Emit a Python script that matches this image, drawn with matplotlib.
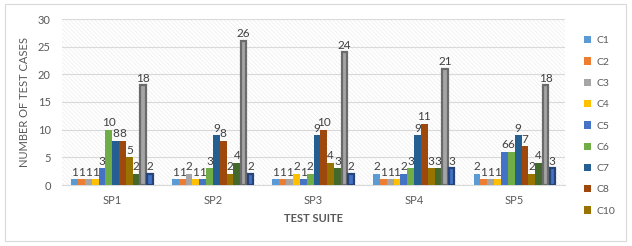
import matplotlib
matplotlib.use("Agg")
import matplotlib.pyplot as plt
from matplotlib.patches import Rectangle
import numpy as np

plt.rcParams['font.family'] = ['Lato', 'DejaVu Sans']

suites = ["SP1", "SP2", "SP3", "SP4", "SP5"]
series_names = ["C1", "C2", "C3", "C4", "C5", "C6", "C7", "C8", "C10", "C11", "C12", "C13"]
C1 = [1, 1, 1, 2, 2]
C2 = [1, 1, 1, 1, 1]
C3 = [1, 2, 1, 1, 1]
C4 = [1, 1, 2, 1, 1]
C5 = [3, 1, 1, 2, 6]
C6 = [10, 3, 2, 3, 6]
C7 = [8, 9, 9, 9, 9]
C8 = [8, 8, 10, 11, 7]
C10 = [5, 2, 4, 3, 2]
C11 = [2, 4, 3, 3, 4]
C12 = [18, 26, 24, 21, 18]
C13 = [2, 2, 2, 3, 3]
values = [C1, C2, C3, C4, C5, C6, C7, C8, C10, C11, C12, C13]

fills = ["#5B9BD5", "#ED7D31", "#A5A5A5", "#FFC000", "#4472C4", "#70AD47",
         "#255E91", "#9E480E", "#997300", "#43682B", "#A5A5A5", "#4472C4"]
edges = [None] * 10 + ["#6B6B6B", "#264478"]

plt.rcParams['hatch.color'] = "#EDEDED"
plt.rcParams['hatch.linewidth'] = 0.5

fig = plt.figure(figsize=(6.32, 2.46), dpi=100)
# outer chart border
fig.patches.append(Rectangle((5 / 632, 5 / 246), 621 / 632, 237 / 246, transform=fig.transFigure,
                             fill=False, edgecolor="#D9D9D9", linewidth=0.8))
ax = fig.add_axes([62 / 632, 61 / 246, 503 / 632, 166 / 246])

x = np.arange(len(suites))
n = len(values)
bw = 0.068
handles = []
for i, (vals, fc, ec) in enumerate(zip(values, fills, edges)):
    pos = x + (i - (n - 1) / 2) * bw
    if ec is None:
        b = ax.bar(pos, vals, bw, color=fc, linewidth=0, zorder=3)
    else:
        b = ax.bar(pos, vals, bw * 0.8, color=fc, edgecolor=ec, linewidth=1.6, zorder=3)
    handles.append(b)
    for p, v in zip(pos, vals):
        ax.text(p, v + 0.3, str(v), ha="center", va="bottom", fontsize=8.5, color="#404040", zorder=4)

ax.set_xlim(-0.5, len(suites) - 0.5)
ax.set_ylim(0, 30)
ax.set_yticks(range(0, 31, 5))
ax.set_xticks(x)
ax.set_xticklabels(suites)
ax.tick_params(axis="both", length=0, labelsize=8, colors="#595959")
ax.tick_params(axis="x", pad=7)
ax.tick_params(axis="y", pad=8)
for s in ["top", "right", "left"]:
    ax.spines[s].set_visible(False)
ax.spines["bottom"].set_color("#D9D9D9")
ax.grid(axis="y", color="#D9D9D9", linewidth=0.8, zorder=1)
ax.set_axisbelow(True)
ax.set_facecolor("white")
ax.add_patch(Rectangle((0, 0), 1, 1, transform=ax.transAxes, facecolor="none",
                       edgecolor="#EDEDED", hatch="\\\\\\\\\\\\\\\\", linewidth=0, zorder=0))

ax.set_xlabel("TEST SUITE", fontsize=8, fontweight="bold", color="#595959", labelpad=5)
ax.set_ylabel("NUMBER OF TEST CASES", fontsize=8, color="#595959", labelpad=6)

fig.legend(handles[:9], series_names[:9], loc="upper left", bbox_to_anchor=(580 / 632, 214 / 246),
           frameon=False, fontsize=7.5, labelcolor="#595959", handlelength=0.7, handleheight=0.7,
           handletextpad=0.5, labelspacing=1.15, borderaxespad=0)

fig.savefig("out.png", dpi=100)
